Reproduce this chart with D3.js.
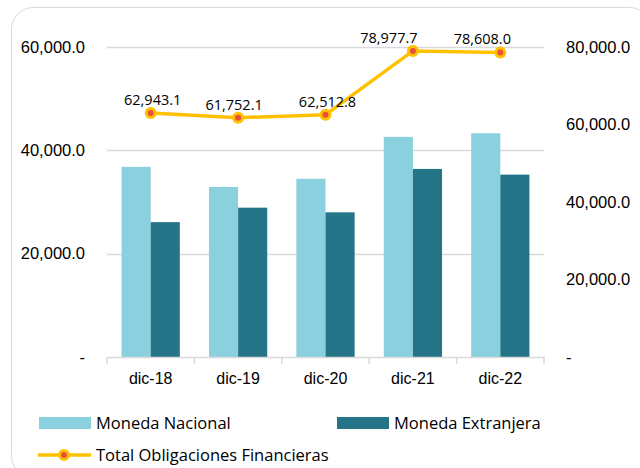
<!DOCTYPE html>
<html>
<head>
<meta charset="utf-8">
<script src="https://cdn.jsdelivr.net/npm/d3@7"></script>
<style>
  body { margin: 0; background: #fff; }
  svg { font-family: "Open Sans", "Noto Sans", sans-serif; }
</style>
</head>
<body>
<script>
// data
var categories = ["dic-18", "dic-19", "dic-20", "dic-21", "dic-22"];
var monedaNacional = [36800, 32900, 34500, 42600, 43300];
var monedaExtranjera = [26100, 28900, 28000, 36400, 35300];
var totalObligaciones = [62943.1, 61752.1, 62512.8, 78977.7, 78608.0];
var leftTicks = [0, 20000, 40000, 60000];
var rightTicks = [0, 20000, 40000, 60000, 80000];

var width = 640, height = 468;
var margin = { top: 47, right: 96, bottom: 111, left: 107 };

var svg = d3.select("body").append("svg")
  .attr("width", width)
  .attr("height", height);

// rounded frame
svg.append("rect")
  .attr("x", 11.5).attr("y", 7.5)
  .attr("width", 640).attr("height", 470)
  .attr("rx", 22)
  .attr("fill", "none")
  .attr("stroke", "#d9d9d9")
  .attr("stroke-width", 1);

var x = d3.scaleBand()
  .domain(categories)
  .range([margin.left, width - margin.right]);

var xi = d3.scaleBand()
  .domain(["n", "e"])
  .range([0, x.bandwidth()])
  .paddingInner(0)
  .paddingOuter(0.5);

var yL = d3.scaleLinear().domain([0, 60000]).range([height - margin.bottom, margin.top]);
var yR = d3.scaleLinear().domain([0, 80000]).range([height - margin.bottom, margin.top]);

var fmt = function (v) { return v === 0 ? "-" : d3.format(",.1f")(v); };

// gridlines
svg.append("g")
  .selectAll("line")
  .data(leftTicks.filter(function (d) { return d > 0; }))
  .enter().append("line")
  .attr("x1", margin.left).attr("x2", width - margin.right)
  .attr("y1", function (d) { return Math.round(yL(d)) + 0.5; })
  .attr("y2", function (d) { return Math.round(yL(d)) + 0.5; })
  .attr("stroke", "#d9d9d9")
  .attr("stroke-width", 1.5);

// left axis
var axL = svg.append("g")
  .attr("transform", "translate(" + margin.left + ",0)")
  .call(d3.axisLeft(yL).tickValues(leftTicks).tickFormat(fmt).tickSize(0).tickPadding(22));
axL.select(".domain").remove();
axL.selectAll("text").attr("font-size", 16.5).attr("fill", "#000");

// right axis
var axR = svg.append("g")
  .attr("transform", "translate(" + (width - margin.right) + ",0)")
  .call(d3.axisRight(yR).tickValues(rightTicks).tickFormat(fmt).tickSize(0).tickPadding(22));
axR.select(".domain").remove();
axR.selectAll("text").attr("font-size", 16.5).attr("fill", "#000");

// bars
var groups = svg.append("g")
  .selectAll("g")
  .data(categories)
  .enter().append("g")
  .attr("transform", function (d) { return "translate(" + x(d) + ",0)"; });

groups.append("rect")
  .attr("x", xi("n"))
  .attr("width", xi.bandwidth())
  .attr("y", function (d, i) { return yL(monedaNacional[i]); })
  .attr("height", function (d, i) { return yL(0) - yL(monedaNacional[i]); })
  .attr("fill", "#8bd0df");

groups.append("rect")
  .attr("x", xi("e"))
  .attr("width", xi.bandwidth())
  .attr("y", function (d, i) { return yL(monedaExtranjera[i]); })
  .attr("height", function (d, i) { return yL(0) - yL(monedaExtranjera[i]); })
  .attr("fill", "#247587");

// x axis
var axX = svg.append("g")
  .attr("transform", "translate(0," + (height - margin.bottom) + ")")
  .call(d3.axisBottom(x).tickSize(0).tickPadding(16));
axX.select(".domain").attr("stroke", "#d9d9d9").attr("stroke-width", 1.5);
axX.selectAll("text").attr("font-size", 16).attr("fill", "#000");
axX.selectAll(".tick line").remove();
svg.append("g")
  .selectAll("line")
  .data(d3.range(categories.length + 1))
  .enter().append("line")
  .attr("x1", function (i) { return margin.left + i * x.step(); })
  .attr("x2", function (i) { return margin.left + i * x.step(); })
  .attr("y1", height - margin.bottom)
  .attr("y2", height - margin.bottom + 7)
  .attr("stroke", "#d9d9d9")
  .attr("stroke-width", 1.5);

// total line
var cx = function (d, i) { return x(categories[i]) + x.bandwidth() / 2; };
var line = d3.line()
  .x(cx)
  .y(function (d) { return yR(d); });

svg.append("path")
  .datum(totalObligaciones)
  .attr("d", line)
  .attr("fill", "none")
  .attr("stroke", "#ffc000")
  .attr("stroke-width", 3.5);

svg.append("g")
  .selectAll("circle")
  .data(totalObligaciones)
  .enter().append("circle")
  .attr("cx", cx)
  .attr("cy", function (d) { return yR(d); })
  .attr("r", 4.5)
  .attr("fill", "#e8503a")
  .attr("stroke", "#ffc000")
  .attr("stroke-width", 3);

// data labels
var labelShift = [2, -4, 2, -24, -18];
svg.append("g")
  .selectAll("text")
  .data(totalObligaciones)
  .enter().append("text")
  .attr("x", function (d, i) { return cx(d, i) + labelShift[i]; })
  .attr("y", function (d) { return yR(d) - 8; })
  .attr("text-anchor", "middle")
  .attr("font-size", 14.5)
  .attr("fill", "#000")
  .text(function (d) { return d3.format(",.1f")(d); });

// legend
var legend = svg.append("g").attr("font-size", 16.5).attr("fill", "#000");
var legendItems = [
  { name: "Moneda Nacional", color: "#8bd0df", x: 39, y: 423 },
  { name: "Moneda Extranjera", color: "#247587", x: 337, y: 423 }
];
legendItems.forEach(function (it) {
  legend.append("rect")
    .attr("x", it.x).attr("y", it.y - 6)
    .attr("width", 52).attr("height", 12)
    .attr("fill", it.color);
  legend.append("text")
    .attr("x", it.x + 57).attr("y", it.y)
    .attr("dy", "0.35em")
    .text(it.name);
});
legend.append("line")
  .attr("x1", 38).attr("x2", 91)
  .attr("y1", 455).attr("y2", 455)
  .attr("stroke", "#ffc000").attr("stroke-width", 3.5);
legend.append("circle")
  .attr("cx", 64).attr("cy", 455).attr("r", 4.5)
  .attr("fill", "#e8503a").attr("stroke", "#ffc000").attr("stroke-width", 3);
legend.append("text")
  .attr("x", 96).attr("y", 455)
  .attr("dy", "0.35em")
  .text("Total Obligaciones Financieras");
</script>
</body>
</html>
